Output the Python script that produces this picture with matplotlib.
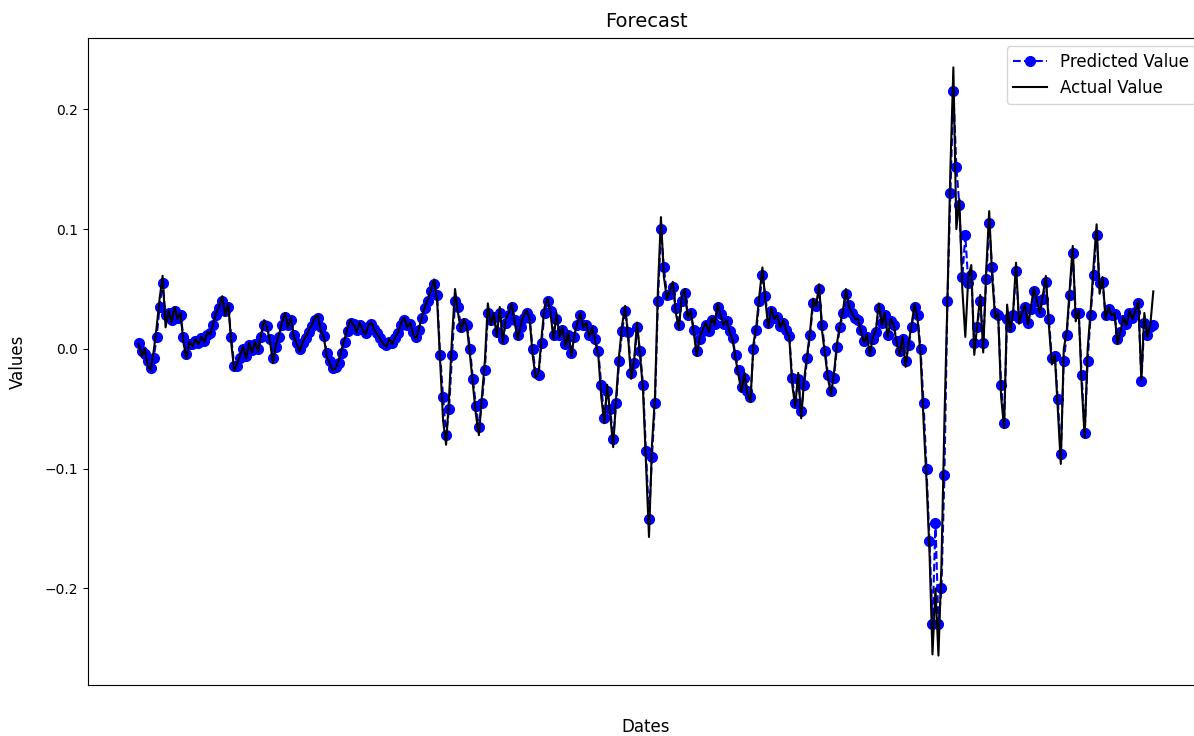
import numpy as np
import matplotlib
matplotlib.use('Agg')
import matplotlib.pyplot as plt

# valori (uno ogni ~3 px)
actual_value = [
	0.004, -0.006, 0.000, -0.014, -0.018, -0.002, 0.018, 0.042, 0.061, 0.018, 0.032, 0.022, 0.035, 0.025, 0.030, 0.005, -0.008,
	0.006, 0.002, 0.008, 0.004, 0.010, 0.006, 0.014, 0.012, 0.022, 0.030, 0.036, 0.044, 0.028, 0.038, 0.005, -0.018,
	-0.012, -0.005, 0.002, -0.008, 0.005, -0.003, 0.006, -0.002, 0.012, 0.024, 0.018, 0.006, -0.012, 0.004, 0.012, 0.022, 0.030,
	0.018, 0.026, 0.010, 0.004, -0.002, 0.006, 0.010, 0.016, 0.020, 0.026, 0.028, 0.015, 0.010, -0.006, -0.012, -0.018,
	-0.016, -0.010, 0.000, 0.008, 0.018, 0.024, 0.020, 0.014, 0.022, 0.016, 0.012, 0.020, 0.022, 0.016, 0.012, 0.008, 0.004, 0.002,
	0.008, 0.004, 0.010, 0.014, 0.022, 0.026, 0.018, 0.022, 0.012, 0.008, 0.018, 0.028, 0.036, 0.042, 0.050, 0.058, 0.040, -0.010,
	-0.060, -0.080, -0.040, 0.010, 0.050, 0.030, 0.015, 0.025, 0.018, -0.005, -0.030, -0.055, -0.072, -0.040, -0.010, 0.038, 0.020,
	0.030, 0.010, 0.035, 0.005, 0.025, 0.030, 0.038, 0.022, 0.008, 0.020, 0.028, 0.032, 0.025, -0.005, -0.024, -0.020, 0.010, 0.035,
	0.042, 0.030,
	0.008, 0.030, 0.010, 0.018, 0.002, 0.014, -0.006, 0.012, 0.022, 0.030, 0.018, 0.022, 0.010, 0.018, 0.006, -0.005, -0.040,
	-0.062, -0.030, -0.055, -0.082, -0.040, -0.005, 0.020, 0.036, 0.010, -0.025, -0.010, 0.022, -0.005, -0.035, -0.095, -0.157, -0.080,
	-0.040, 0.050, 0.110, 0.060, 0.042, 0.048, 0.056, 0.030, 0.017, 0.044, 0.050, 0.026, 0.032, 0.014, -0.006, 0.010, 0.016,
	0.022, 0.014, 0.026, 0.020, 0.038, 0.028, 0.020, 0.024, 0.014, 0.008, -0.008, -0.022, -0.036, -0.020, -0.038, -0.044, 0.004,
	0.020, 0.045, 0.068, 0.040, 0.018, 0.034, 0.025, 0.028, 0.018, 0.024, 0.015, 0.010, -0.030, -0.048, -0.020, -0.058, -0.025,
	-0.005, 0.015, 0.042, 0.035, 0.054, 0.015, -0.005, -0.025, -0.038, -0.020, 0.005, 0.020, 0.032, 0.050, 0.035, 0.030, 0.025,
	0.025, 0.015, 0.005, 0.012, -0.005, 0.010, 0.015, 0.038, 0.020, 0.030, 0.010, 0.025, 0.020, 0.005, -0.005, 0.010, -0.015,
	0.005, 0.020, 0.038, 0.025,
	-0.005, -0.060, -0.110, -0.170, -0.255, -0.200, -0.256, -0.180, -0.060, 0.040, 0.150, 0.235, 0.100, 0.125, 0.050, 0.010,
	0.060, 0.070, -0.005, 0.020, 0.045, -0.003, 0.065, 0.115, 0.060, 0.026, 0.030, -0.040, -0.066, 0.037, 0.015, 0.030, 0.072,
	0.021, 0.030, 0.037, 0.020, 0.035, 0.051, 0.040, 0.030, 0.045, 0.061, 0.020, -0.013, -0.005, -0.050, -0.096, 0.000, 0.015,
	0.050, 0.086, 0.023, 0.032, -0.030, -0.074, 0.000, 0.032, 0.070, 0.104, 0.046, 0.060, 0.025, 0.035, 0.028, 0.030, 0.004,
	0.015, 0.026, 0.020, 0.032, 0.025, 0.032, 0.040, -0.026, 0.030, 0.010, 0.020, 0.048,
]

predicted_value = [
	0.005, -0.002, -0.004, -0.010, -0.016, -0.008, 0.010, 0.035, 0.055, 0.028, 0.030, 0.024, 0.032, 0.026, 0.028, 0.010, -0.004,
	0.004, 0.004, 0.007, 0.005, 0.009, 0.007, 0.012, 0.013, 0.020, 0.028, 0.034, 0.040, 0.032, 0.035, 0.010, -0.014,
	-0.014, -0.008, 0.000, -0.006, 0.003, -0.001, 0.004, 0.000, 0.010, 0.020, 0.019, 0.008, -0.008, 0.002, 0.010, 0.020, 0.027,
	0.020, 0.024, 0.012, 0.005, 0.000, 0.005, 0.009, 0.014, 0.019, 0.024, 0.026, 0.018, 0.011, -0.003, -0.010, -0.016,
	-0.015, -0.012, -0.003, 0.006, 0.015, 0.022, 0.021, 0.016, 0.020, 0.017, 0.013, 0.018, 0.021, 0.017, 0.013, 0.009, 0.005, 0.003,
	0.006, 0.005, 0.009, 0.013, 0.020, 0.024, 0.020, 0.021, 0.014, 0.010, 0.016, 0.026, 0.034, 0.040, 0.048, 0.054, 0.045, -0.005,
	-0.040, -0.072, -0.050, -0.005, 0.040, 0.035, 0.018, 0.022, 0.020, 0.000, -0.025, -0.048, -0.065, -0.045, -0.018, 0.030, 0.024,
	0.027, 0.014, 0.030, 0.008, 0.022, 0.028, 0.035, 0.024, 0.012, 0.018, 0.026, 0.030, 0.026, 0.000, -0.020, -0.022, 0.005, 0.030,
	0.040, 0.032,
	0.012, 0.025, 0.012, 0.016, 0.004, 0.012, -0.003, 0.010, 0.020, 0.028, 0.020, 0.020, 0.012, 0.016, 0.008, -0.002, -0.030,
	-0.058, -0.035, -0.050, -0.075, -0.045, -0.010, 0.015, 0.032, 0.014, -0.020, -0.012, 0.018, -0.002, -0.030, -0.085, -0.142, -0.090,
	-0.045, 0.040, 0.100, 0.068, 0.045, 0.046, 0.052, 0.034, 0.020, 0.040, 0.047, 0.028, 0.030, 0.016, -0.002, 0.008, 0.015,
	0.020, 0.015, 0.024, 0.021, 0.035, 0.029, 0.021, 0.023, 0.015, 0.009, -0.005, -0.018, -0.032, -0.024, -0.035, -0.040, 0.000,
	0.016, 0.040, 0.062, 0.044, 0.022, 0.032, 0.026, 0.027, 0.019, 0.022, 0.016, 0.011, -0.024, -0.045, -0.025, -0.052, -0.030,
	-0.008, 0.012, 0.038, 0.036, 0.050, 0.020, -0.002, -0.022, -0.035, -0.024, 0.002, 0.018, 0.030, 0.046, 0.037, 0.030, 0.026,
	0.024, 0.016, 0.007, 0.010, -0.002, 0.008, 0.014, 0.034, 0.022, 0.028, 0.012, 0.023, 0.020, 0.007, -0.002, 0.008, -0.010,
	0.003, 0.018, 0.035, 0.028,
	0.000, -0.045, -0.100, -0.160, -0.230, -0.145, -0.230, -0.200, -0.105, 0.040, 0.130, 0.215, 0.152, 0.120, 0.060, 0.095,
	0.055, 0.062, 0.005, 0.018, 0.040, 0.005, 0.058, 0.105, 0.068, 0.030, 0.028, -0.030, -0.062, 0.025, 0.018, 0.028, 0.065,
	0.026, 0.028, 0.035, 0.022, 0.033, 0.048, 0.040, 0.031, 0.042, 0.056, 0.025, -0.008, -0.006, -0.042, -0.088, -0.010, 0.012,
	0.045, 0.080, 0.030, 0.030, -0.022, -0.070, -0.010, 0.028, 0.062, 0.095, 0.055, 0.056, 0.028, 0.033, 0.028, 0.029, 0.008,
	0.014, 0.024, 0.021, 0.030, 0.026, 0.031, 0.038, -0.027, 0.022, 0.012, 0.018, 0.020,
]

assert len(actual_value) == len(predicted_value)
dates = np.arange(len(actual_value))

fig = plt.figure(figsize=(11.94, 7.36), dpi=100)
# l'asse destro esce dall'immagine come nell'originale (ritagliato)
ax = fig.add_axes([0.0737, 0.0693, 0.9347, 0.8791])

ax.plot(dates, predicted_value, 'bo--', markersize=7, label='Predicted Value')
ax.plot(dates, actual_value, 'k-', label='Actual Value')

ax.set_xticks([])
ax.set_title('Forecast', fontsize=14, pad=8)
ax.set_xlabel('Dates', fontsize=12, labelpad=24)
ax.set_ylabel('Values', fontsize=12, labelpad=13)
ax.legend(loc='upper right', fontsize=12)

fig.savefig('out.png', dpi=100)
